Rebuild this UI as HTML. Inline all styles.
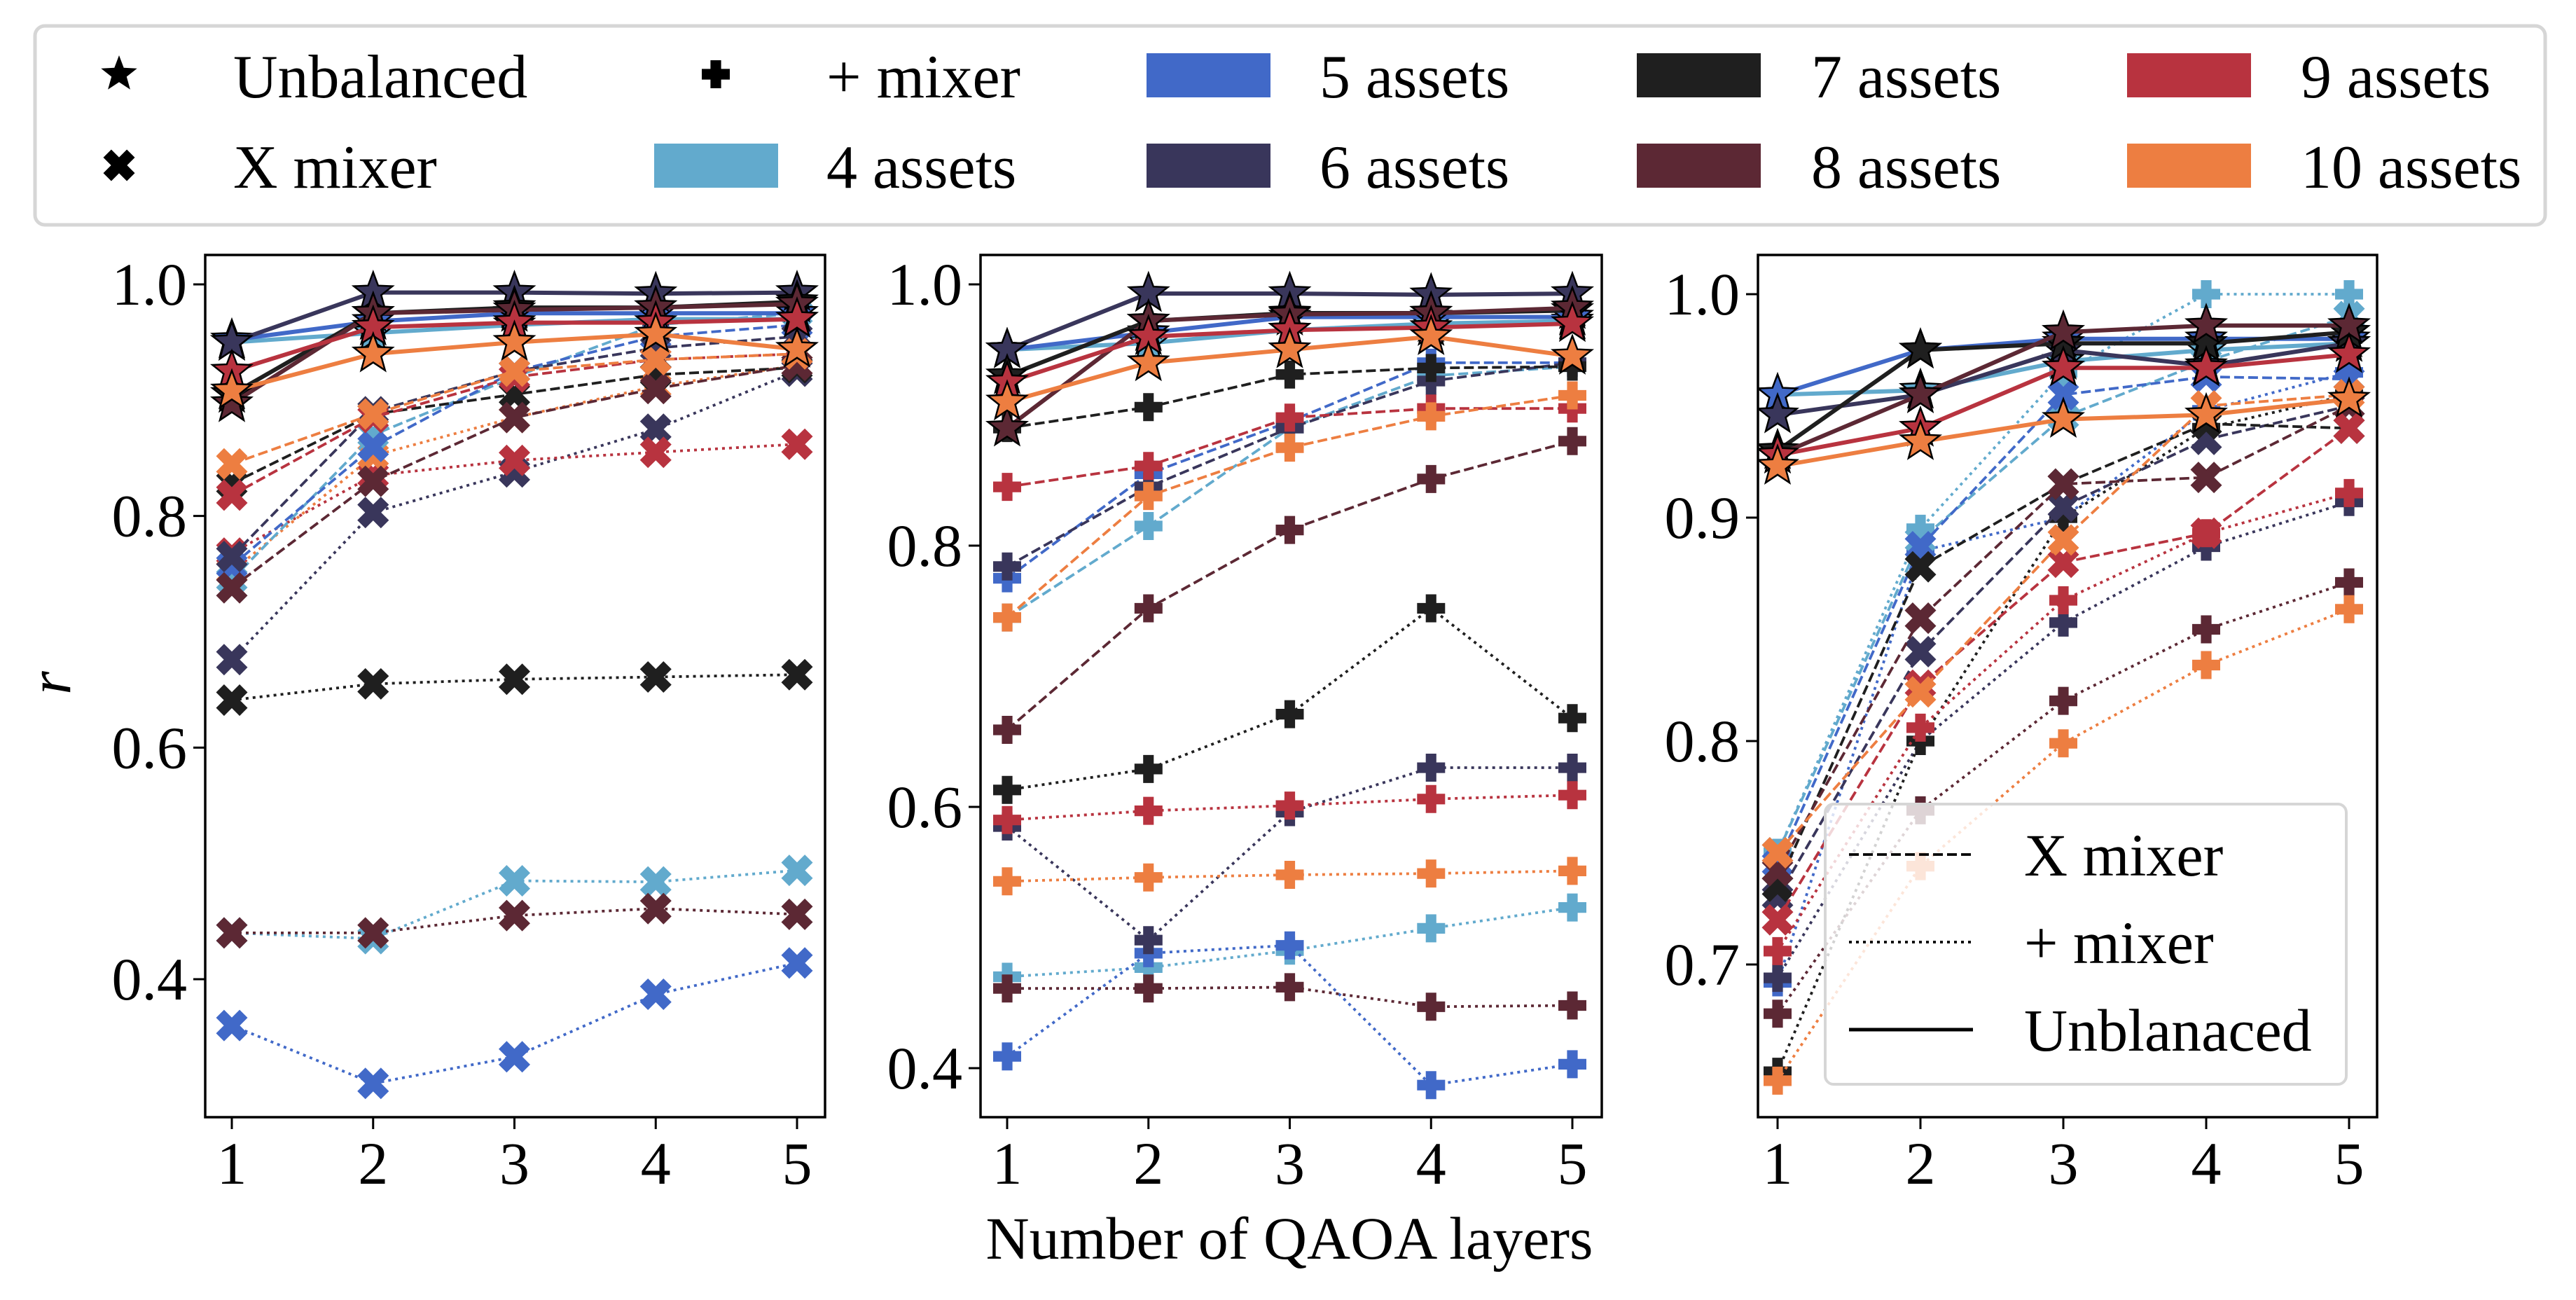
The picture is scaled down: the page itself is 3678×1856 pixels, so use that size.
<!DOCTYPE html>
<html><head><meta charset="utf-8">
<style>
html,body{margin:0;padding:0;background:#fff;}
svg{display:block;font-family:"Liberation Serif","DejaVu Serif",serif;}
</style></head>
<body>
<svg id="chart" width="3678" height="1856" viewBox="0 0 3678 1856" xmlns="http://www.w3.org/2000/svg">
  <rect x="0" y="0" width="3678" height="1856" fill="#fff"/>
  <g id="top-legend">
    <rect x="50" y="37" width="3584" height="284" rx="14" fill="#fff" stroke="#d6d6d6" stroke-width="5"/>
  </g>
  <g id="plots"></g>
  <text x="1841" y="1797" font-size="86" text-anchor="middle">Number of QAOA layers</text>
  <text x="100" y="975" font-size="86" font-style="italic" text-anchor="middle" transform="rotate(-90 100 975)">r</text>
</svg>
<script>
const layers = [1, 2, 3, 4, 5];
const assetNames = ["4 assets","5 assets","6 assets","7 assets","8 assets","9 assets","10 assets"];
const assetColors = ["#62aacd","#4169c8","#39365b","#1f1f1f","#5c2834","#b8333f","#ed7e41"];

// Panel 1 (X-mixer markers)
const p1Unbal = [
  [0.950,0.958,0.965,0.970,0.970],
  [0.952,0.968,0.975,0.975,0.975],
  [0.950,0.993,0.993,0.992,0.993],
  [0.905,0.975,0.980,0.980,0.985],
  [0.897,0.975,0.978,0.980,0.983],
  [0.925,0.963,0.967,0.967,0.970],
  [0.908,0.940,0.950,0.957,0.944]];
const p1Dash = [
  [0.745,0.870,0.920,0.965,0.975],
  [0.757,0.860,0.925,0.955,0.965],
  [0.765,0.890,0.925,0.945,0.955],
  [0.828,0.888,0.905,0.922,0.928],
  [0.738,0.830,0.885,0.910,0.930],
  [0.818,0.885,0.920,0.935,0.940],
  [0.845,0.888,0.925,0.935,0.940]];
const p1Dot = [
  [0.440,0.435,0.485,0.484,0.494],
  [0.360,0.310,0.333,0.387,0.414],
  [0.676,0.803,0.838,0.875,0.925],
  [0.641,0.655,0.659,0.661,0.663],
  [0.440,0.440,0.455,0.461,0.456],
  [0.768,0.835,0.848,0.855,0.862],
  [0.752,0.852,0.885,0.912,0.930]];

// Panel 2 (+ mixer markers)
const p2Unbal = [
  [0.950,0.955,0.965,0.970,0.972],
  [0.950,0.963,0.975,0.975,0.975],
  [0.950,0.993,0.993,0.992,0.993],
  [0.930,0.972,0.978,0.978,0.980],
  [0.890,0.972,0.977,0.978,0.982],
  [0.925,0.960,0.965,0.967,0.970],
  [0.910,0.940,0.950,0.960,0.945]];
const p2Dash = [
  [0.745,0.815,0.890,0.930,0.937],
  [0.775,0.855,0.895,0.940,0.940],
  [0.784,0.845,0.890,0.926,0.940],
  [0.890,0.906,0.931,0.936,0.937],
  [0.659,0.752,0.812,0.851,0.880],
  [0.845,0.861,0.898,0.905,0.905],
  [0.745,0.838,0.875,0.899,0.915]];
const p2Dot = [
  [0.470,0.477,0.490,0.507,0.523],
  [0.409,0.488,0.494,0.387,0.403],
  [0.585,0.498,0.596,0.630,0.630],
  [0.613,0.629,0.671,0.752,0.668],
  [0.461,0.461,0.462,0.447,0.448],
  [0.590,0.597,0.601,0.606,0.609],
  [0.543,0.546,0.548,0.549,0.551]];

// Panel 3
const p3Unbal = [
  [0.955,0.957,0.970,0.975,0.978],
  [0.955,0.975,0.980,0.980,0.980],
  [0.946,0.955,0.975,0.968,0.978],
  [0.930,0.975,0.978,0.978,0.983],
  [0.928,0.955,0.983,0.986,0.986],
  [0.928,0.940,0.967,0.967,0.973],
  [0.923,0.934,0.944,0.946,0.953]];
const p3Dash = [
  [0.750,0.890,0.945,0.970,0.990],
  [0.745,0.887,0.955,0.963,0.962],
  [0.730,0.840,0.905,0.935,0.950],
  [0.735,0.878,0.915,0.942,0.940],
  [0.742,0.855,0.915,0.918,0.950],
  [0.720,0.825,0.880,0.893,0.940],
  [0.750,0.822,0.890,0.950,0.955]];
const p3Dot = [
  [0.750,0.895,0.965,1.000,1.000],
  [0.692,0.885,0.900,0.948,0.965],
  [0.694,0.800,0.853,0.887,0.907],
  [0.652,0.800,0.900,0.940,0.955],
  [0.678,0.769,0.818,0.850,0.871],
  [0.706,0.806,0.863,0.893,0.911],
  [0.648,0.744,0.799,0.834,0.859]];

const p1Ticks = [0.4,0.6,0.8,1.0];
const p2Ticks = [0.4,0.6,0.8,1.0];
const p3Ticks = [0.7,0.8,0.9,1.0];
const p1TickLabels = ["0.4","0.6","0.8","1.0"];
const p2TickLabels = ["0.4","0.6","0.8","1.0"];
const p3TickLabels = ["0.7","0.8","0.9","1.0"];

const NS = "http://www.w3.org/2000/svg";
function mk(tag, attrs, parent){
  const e = document.createElementNS(NS, tag);
  for (const k in attrs) e.setAttribute(k, attrs[k]);
  if (parent) parent.appendChild(e);
  return e;
}
function starPath(cx, cy, R){
  const r = R*0.42; let d = "";
  for (let i=0;i<10;i++){
    const a = -Math.PI/2 + i*Math.PI/5, rr = i%2===0?R:r;
    d += (i===0?"M":"L") + (cx+rr*Math.cos(a)).toFixed(1) + "," + (cy+rr*Math.sin(a)).toFixed(1);
  }
  return d + "Z";
}
function crossPts(s, ratio){
  const a = s*ratio, b = s;
  return [[-a,-b],[a,-b],[a,-a],[b,-a],[b,a],[a,a],[a,b],[-a,b],[-a,a],[-b,a],[-b,-a],[-a,-a]];
}
function xPath(cx, cy, s){
  const c = Math.SQRT1_2;
  const pts = crossPts(s*1.25, 0.34).map(p=>[(p[0]-p[1])*c,(p[0]+p[1])*c]);
  return "M" + pts.map(p=>(cx+p[0]).toFixed(1)+","+(cy+p[1]).toFixed(1)).join("L") + "Z";
}
function plusPath(cx, cy, s){
  const pts = crossPts(s, 0.38);
  return "M" + pts.map(p=>(cx+p[0]).toFixed(1)+","+(cy+p[1]).toFixed(1)).join("L") + "Z";
}

const panels = [
  {name:"panel-1", left:293, right:1178, top:364, bottom:1595, yA:1.0, yApx:406, yB:0.4, yBpx:1398, ticks:p1Ticks, labels:p1TickLabels, unbal:p1Unbal, dash:p1Dash, dot:p1Dot, dashM:"x", dotM:"x"},
  {name:"panel-2", left:1400, right:2287, top:364, bottom:1595, yA:1.0, yApx:406, yB:0.4, yBpx:1525, ticks:p2Ticks, labels:p2TickLabels, unbal:p2Unbal, dash:p2Dash, dot:p2Dot, dashM:"plus", dotM:"plus"},
  {name:"panel-3", left:2510, right:3394, top:364, bottom:1595, yA:1.0, yApx:420, yB:0.7, yBpx:1377, ticks:p3Ticks, labels:p3TickLabels, unbal:p3Unbal, dash:p3Dash, dot:p3Dot, dashM:"x", dotM:"plus"}
];

const root = document.getElementById("plots");
panels.forEach((P, pi) => {
  const g = mk("g", {}, root);
  
  
  const xOff = [331,1438,2538][pi], xEnd = [1138,2245,3354][pi];
  const xs = v => xOff + (v-1)*(xEnd-xOff)/4;
  const ys = v => P.yApx + (P.yA - v)*(P.yBpx-P.yApx)/(P.yA-P.yB);
  const clipId = "clip"+pi;
  const cp = mk("clipPath", {id:clipId}, g);
  mk("rect", {x:P.left, y:P.top, width:P.right-P.left, height:P.bottom-P.top}, cp);
  const plotG = mk("g", {"clip-path":"url(#"+clipId+")"}, g);

  function series(arr, kind, marker){
    arr.forEach((vals, si) => {
      const col = assetColors[si];
      const sg = mk("g", {}, plotG);
      
      
      const pts = vals.map((v,i)=>xs(layers[i]).toFixed(1)+","+ys(v).toFixed(1)).join(" ");
      const la = {points:pts, fill:"none", stroke:col, "stroke-linejoin":"round"};
      if (kind==="unbalanced"){ la["stroke-width"]=6; }
      else if (kind==="x-mixer"){ la["stroke-width"]=3.8; la["stroke-dasharray"]="14,6"; }
      else { la["stroke-width"]=3.8; la["stroke-dasharray"]="4,6"; }
      const line = mk("polyline", la, sg);
      
      
      vals.forEach((v,i)=>{
        const cx = xs(layers[i]), cy = ys(v);
        let d, extra = {};
        if (marker==="star"){ d = starPath(cx,cy,29); extra = {stroke:"#000","stroke-width":2.5}; }
        else if (marker==="x"){ d = xPath(cx,cy,19); }
        else { d = plusPath(cx,cy,20); }
        const m = mk("path", Object.assign({d:d, fill:col}, extra), sg);
        
        
      });
    });
  }
  series(P.dot, "plus-mixer", P.dotM);
  series(P.dash, "x-mixer", P.dashM);
  series(P.unbal, "unbalanced", "star");

  const frame = mk("rect", {x:P.left, y:P.top, width:P.right-P.left, height:P.bottom-P.top, fill:"none", stroke:"#000", "stroke-width":3.5}, g);
  
  
  P.ticks.forEach((t,i)=>{
    const y = ys(t);
    mk("line", {x1:P.left-17, x2:P.left, y1:y, y2:y, stroke:"#000", "stroke-width":3}, g);
    const tx = mk("text", {x:P.left-26, y:y+29, "font-size":86, "text-anchor":"end"}, g);
    tx.textContent = P.labels[i];
    
    
  });
  layers.forEach(l=>{
    const x = xs(l);
    mk("line", {x1:x, x2:x, y1:P.bottom, y2:P.bottom+17, stroke:"#000", "stroke-width":3}, g);
    const tx = mk("text", {x:x, y:P.bottom+95, "font-size":86, "text-anchor":"middle"}, g);
    tx.textContent = String(l);
    
    
  });
});

// Inner legend in panel 3
const lg = mk("g", {}, root);


mk("rect", {x:2606, y:1148, width:744, height:400, rx:12, fill:"#fff", "fill-opacity":0.8, stroke:"#d6d6d6", "stroke-width":4}, lg);
const styleNames = ["X mixer","+ mixer","Unblanaced"];
const styleDash = ["14,6","4,6",""];
const styleW = [3.8,3.8,5];
styleNames.forEach((s,i)=>{
  const y = 1220 + i*125;
  const ln = mk("line", {x1:2640, x2:2817, y1:y, y2:y, stroke:"#000", "stroke-width":styleW[i]}, lg);
  if (styleDash[i]) ln.setAttribute("stroke-dasharray", styleDash[i]);
  const t = mk("text", {x:2890, y:y+30, "font-size":86}, lg);
  t.textContent = s;
  
  
});

// Top legend entries
const tl = document.getElementById("top-legend");
const row1 = 139, row2 = 268;
function legText(x, y, s){
  const t = mk("text", {x:x, y:y, "font-size":88}, tl);
  t.textContent = s;
  
  
}
mk("path", {d:starPath(170,106,27), fill:"#000"}, tl);
legText(333, row1, "Unbalanced");
mk("path", {d:xPath(170,236,19), fill:"#000"}, tl);
legText(333, row2, "X mixer");
mk("path", {d:plusPath(1022,106,20), fill:"#000"}, tl);
legText(1180, row1, "+ mixer");
const patchPos = [[934,row2],[1637,row1],[1637,row2],[2337,row1],[2337,row2],[3037,row1],[3037,row2]];
const textX = [1180,1884,1884,2586,2586,3285,3285];
assetNames.forEach((n,i)=>{
  const p = patchPos[i];
  const r = mk("rect", {x:p[0], y:p[1]-63, width:177, height:63, fill:assetColors[i]}, tl);
  
  
  legText(textX[i], p[1], n);
});
</script>
</body></html>
